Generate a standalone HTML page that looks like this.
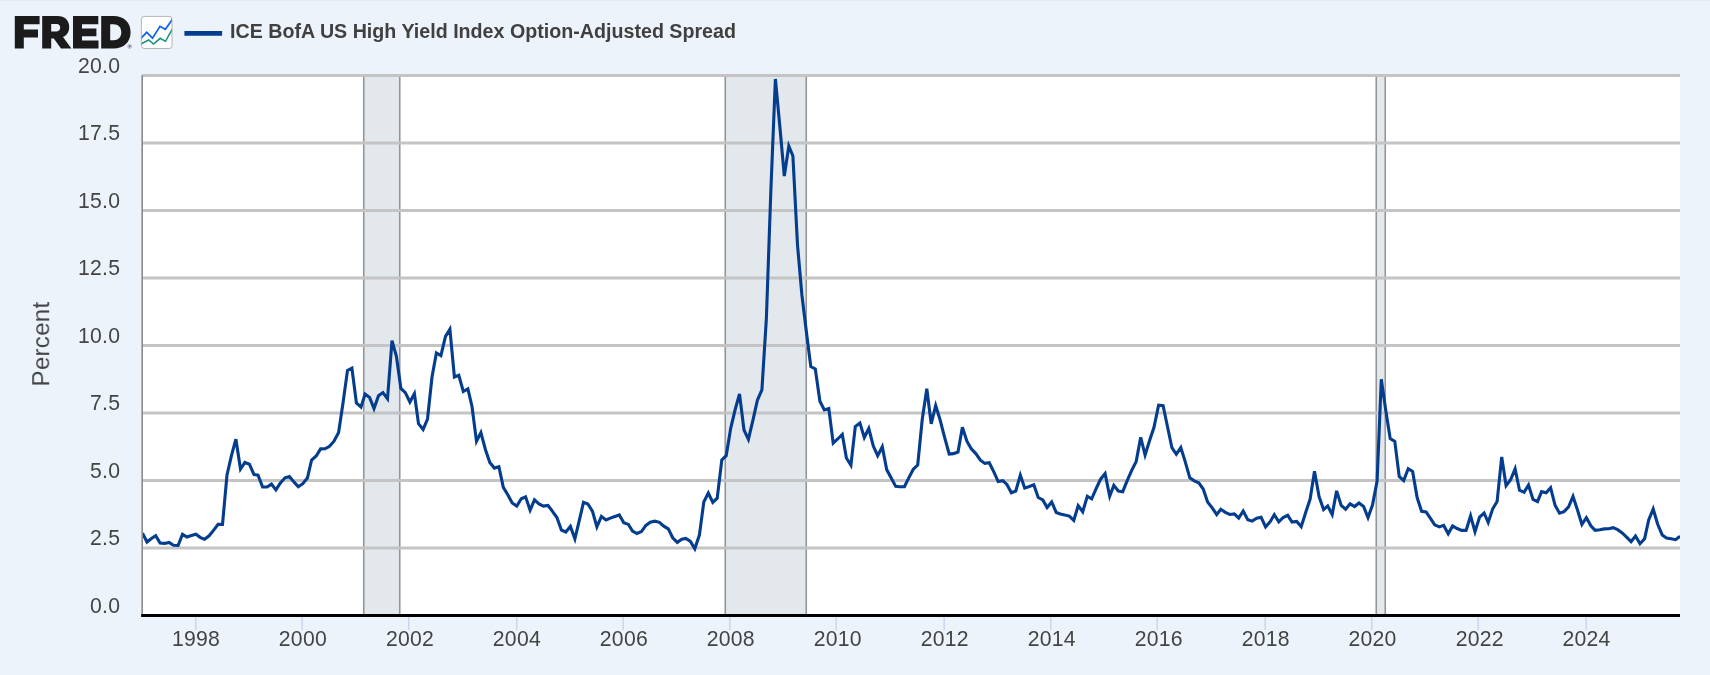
<!DOCTYPE html>
<html><head><meta charset="utf-8"><title>FRED Graph</title>
<style>
html,body{margin:0;padding:0;background:#ecf3fb;}
body{width:1710px;height:675px;overflow:hidden;font-family:"Liberation Sans",sans-serif;}
svg{display:block;}
svg text{filter:url(#idf);}
svg text{font-family:"Liberation Sans",sans-serif;}
.lbl{font-size:21.2px;fill:#444444;letter-spacing:0.25px;}
.ttl{font-size:24px;fill:#444444;letter-spacing:0.3px;}
.title{font-size:20.3px;font-weight:bold;fill:#404040;}
</style></head><body>
<svg width="1710" height="675" viewBox="0 0 1710 675">
<defs><filter id="idf" x="-5%" y="-50%" width="110%" height="200%" color-interpolation-filters="sRGB"><feOffset dx="0" dy="0"/></filter></defs>
<rect x="0" y="0" width="1710" height="675" fill="#ecf3fb"/>
<rect x="0" y="0" width="1710" height="1.2" fill="#e4ebf3"/>
<rect x="142" y="75.5" width="1538" height="540.0" fill="#ffffff"/>
<rect x="363.75" y="75.5" width="36.0" height="540.0" fill="#e3e8ed"/>
<line x1="363.75" y1="75.5" x2="363.75" y2="615.5" stroke="#959595" stroke-width="1.6"/>
<line x1="399.75" y1="75.5" x2="399.75" y2="615.5" stroke="#959595" stroke-width="1.6"/>
<rect x="725.25" y="75.5" width="81.0" height="540.0" fill="#e3e8ed"/>
<line x1="725.25" y1="75.5" x2="725.25" y2="615.5" stroke="#959595" stroke-width="1.6"/>
<line x1="806.25" y1="75.5" x2="806.25" y2="615.5" stroke="#959595" stroke-width="1.6"/>
<rect x="1376.25" y="75.5" width="9.0" height="540.0" fill="#e3e8ed"/>
<line x1="1376.25" y1="75.5" x2="1376.25" y2="615.5" stroke="#959595" stroke-width="1.6"/>
<line x1="1385.25" y1="75.5" x2="1385.25" y2="615.5" stroke="#959595" stroke-width="1.6"/>
<line x1="142" y1="75.5" x2="1680" y2="75.5" stroke="#c4c4c4" stroke-width="2.8"/>
<line x1="142" y1="143.0" x2="1680" y2="143.0" stroke="#c4c4c4" stroke-width="2.8"/>
<line x1="142" y1="210.5" x2="1680" y2="210.5" stroke="#c4c4c4" stroke-width="2.8"/>
<line x1="142" y1="278.0" x2="1680" y2="278.0" stroke="#c4c4c4" stroke-width="2.8"/>
<line x1="142" y1="345.5" x2="1680" y2="345.5" stroke="#c4c4c4" stroke-width="2.8"/>
<line x1="142" y1="413.0" x2="1680" y2="413.0" stroke="#c4c4c4" stroke-width="2.8"/>
<line x1="142" y1="480.5" x2="1680" y2="480.5" stroke="#c4c4c4" stroke-width="2.8"/>
<line x1="142" y1="548.0" x2="1680" y2="548.0" stroke="#c4c4c4" stroke-width="2.8"/>
<line x1="142.2" y1="75.2" x2="142.2" y2="617" stroke="#8a8a8a" stroke-width="1.6"/>
<clipPath id="pc"><rect x="143" y="60" width="1537" height="556"/></clipPath>
<polyline clip-path="url(#pc)" points="142.5,533.1 147.0,542.0 151.1,538.7 155.7,535.6 160.1,543.0 164.6,543.4 169.0,542.4 173.5,545.3 178.1,545.5 182.5,534.3 187.0,537.0 191.4,535.6 195.9,534.3 200.5,537.6 204.6,539.3 209.1,535.8 213.5,530.4 218.1,524.4 222.5,524.4 227.0,475.0 231.5,455.3 235.9,439.2 240.5,469.0 244.9,462.5 249.4,464.2 253.9,474.4 258.0,475.2 262.6,487.0 267.0,487.0 271.5,484.1 275.9,489.9 280.4,483.0 285.0,477.8 289.4,476.6 293.9,481.9 298.3,486.7 302.8,483.7 307.4,478.1 311.6,460.0 316.2,456.0 320.6,448.9 325.1,448.8 329.5,446.3 334.0,441.2 338.6,432.5 343.0,403.0 347.5,370.4 351.9,368.1 356.4,403.0 361.0,407.1 365.1,394.1 369.6,397.4 374.0,408.6 378.5,395.7 382.9,392.6 387.5,398.8 392.0,340.7 396.4,356.3 400.9,388.5 405.3,392.6 409.9,402.0 414.4,393.7 418.5,423.7 423.1,429.5 427.5,419.0 432.0,377.0 436.4,353.0 440.9,355.6 445.5,336.4 449.9,329.3 454.4,377.0 458.8,375.4 463.3,391.5 467.9,388.8 472.0,406.5 476.5,441.2 480.9,432.5 485.4,449.5 489.8,462.5 494.4,468.1 498.9,466.7 503.3,487.4 507.8,494.7 512.2,503.0 516.8,506.1 521.3,498.8 525.6,496.8 530.1,510.2 534.5,499.9 539.0,504.0 543.4,506.1 548.0,505.5 552.5,511.3 556.9,517.5 561.4,530.0 565.8,532.0 570.4,526.4 574.9,538.8 579.0,521.7 583.5,502.4 587.9,504.0 592.5,511.3 596.9,526.8 601.4,516.5 606.0,520.0 610.3,518.1 614.9,516.5 619.3,515.0 623.8,522.7 628.4,524.4 632.5,531.0 637.0,533.5 641.4,531.6 645.9,525.4 650.3,522.3 654.9,521.2 659.4,522.3 663.8,526.2 668.3,528.9 672.7,537.8 677.3,542.4 681.8,539.3 685.9,538.5 690.4,541.4 694.8,548.8 699.4,535.1 703.8,502.0 708.3,493.0 712.8,502.4 717.2,498.2 721.8,460.0 726.2,455.7 730.7,428.3 735.2,409.5 739.5,393.9 744.0,430.0 748.4,439.3 753.0,419.9 757.4,400.2 761.9,389.8 766.4,318.0 770.8,192.0 775.4,79.0 779.8,126.0 784.3,176.1 788.8,146.0 792.9,156.0 797.5,245.0 801.9,295.0 806.4,332.0 810.8,366.6 815.3,369.0 819.9,401.2 824.3,409.9 828.8,408.5 833.2,443.1 837.7,439.0 842.3,434.4 846.4,458.0 850.9,465.2 855.3,426.5 859.9,423.0 864.3,437.5 868.8,428.5 873.3,446.1 877.7,455.7 882.3,446.8 886.7,469.6 891.2,477.9 895.7,486.4 899.8,486.8 904.4,486.8 908.8,477.9 913.3,469.2 917.7,465.0 922.2,419.8 926.8,388.7 931.2,423.9 935.7,405.5 940.1,419.8 944.6,437.4 949.2,454.0 953.4,453.6 958.0,452.0 962.4,427.3 966.9,441.2 971.3,448.8 975.8,453.6 980.4,460.2 984.8,463.4 989.3,462.7 993.7,471.6 998.2,481.6 1002.8,480.7 1006.9,484.4 1011.4,492.7 1015.8,491.0 1020.3,475.2 1024.7,488.1 1029.3,486.5 1033.8,484.8 1038.2,497.5 1042.8,500.0 1047.1,507.6 1051.7,502.0 1056.2,512.4 1060.3,513.9 1064.9,515.1 1069.3,516.1 1073.8,520.3 1078.2,505.6 1082.7,511.8 1087.3,496.4 1091.7,498.9 1096.2,488.5 1100.6,479.2 1105.1,473.6 1109.7,496.2 1113.8,485.4 1118.3,491.0 1122.7,491.7 1127.2,480.7 1131.6,470.6 1136.2,461.4 1140.7,437.3 1145.1,455.0 1149.6,440.5 1154.0,427.3 1158.6,405.1 1163.1,405.6 1167.4,426.3 1171.9,447.7 1176.3,454.3 1180.8,447.6 1185.2,461.6 1189.8,477.8 1194.3,480.9 1198.7,482.7 1203.2,489.0 1207.6,502.0 1212.2,507.8 1216.7,514.5 1220.8,509.3 1225.3,512.4 1229.7,514.5 1234.3,513.9 1238.7,518.0 1243.2,511.0 1247.8,519.7 1252.1,521.1 1256.7,518.2 1261.1,517.2 1265.6,526.9 1270.2,521.7 1274.3,514.7 1278.8,521.8 1283.2,517.5 1287.7,515.3 1292.1,522.0 1296.7,521.4 1301.2,526.6 1305.6,512.7 1310.1,499.2 1314.5,471.2 1319.1,496.7 1323.6,509.6 1327.7,505.9 1332.2,514.5 1336.6,490.9 1341.2,505.4 1345.6,509.2 1350.1,503.8 1354.6,506.5 1359.0,503.0 1363.6,506.5 1368.0,517.6 1372.5,505.0 1377.1,481.0 1381.3,379.2 1385.8,410.6 1390.2,438.6 1394.8,441.4 1399.2,476.4 1403.7,480.6 1408.2,468.8 1412.6,471.5 1417.2,497.8 1421.6,511.3 1426.1,511.9 1430.6,518.6 1434.7,524.8 1439.3,526.9 1443.7,525.4 1448.2,533.7 1452.6,525.9 1457.1,528.5 1461.7,530.4 1466.1,530.4 1470.6,515.8 1475.0,531.8 1479.6,517.1 1484.1,513.0 1488.2,522.5 1492.7,508.8 1497.1,501.6 1501.7,457.0 1506.1,485.6 1510.6,479.8 1515.1,468.8 1519.5,490.2 1524.1,492.2 1528.5,485.0 1533.0,499.5 1537.5,501.6 1541.6,491.6 1546.2,492.7 1550.6,487.7 1555.1,505.3 1559.5,513.2 1564.0,511.6 1568.6,506.9 1573.0,496.5 1577.5,510.0 1581.9,524.4 1586.4,517.7 1591.0,526.0 1595.2,530.4 1599.8,529.7 1604.2,528.9 1608.7,528.7 1613.1,527.7 1617.6,529.7 1622.2,532.9 1626.6,537.1 1631.1,541.7 1635.5,536.0 1640.0,543.7 1644.6,538.7 1648.7,520.0 1653.2,509.0 1657.6,524.0 1662.2,534.9 1666.5,538.0 1671.1,538.7 1675.6,539.7 1680.0,536.3" fill="none" stroke="#043d8e" stroke-width="3.1" stroke-linejoin="miter" stroke-miterlimit="4" stroke-linecap="butt"/>
<line x1="141.2" y1="615.5" x2="1680" y2="615.5" stroke="#000000" stroke-width="3"/>
<line x1="195.8" y1="617" x2="195.8" y2="630" stroke="#ccd6eb" stroke-width="1.5"/>
<text x="196.0" y="645.8" text-anchor="middle" class="lbl">1998</text>
<line x1="302.2" y1="617" x2="302.2" y2="630" stroke="#ccd6eb" stroke-width="1.5"/>
<text x="302.9" y="645.8" text-anchor="middle" class="lbl">2000</text>
<line x1="408.8" y1="617" x2="408.8" y2="630" stroke="#ccd6eb" stroke-width="1.5"/>
<text x="410.0" y="645.8" text-anchor="middle" class="lbl">2002</text>
<line x1="516.8" y1="617" x2="516.8" y2="630" stroke="#ccd6eb" stroke-width="1.5"/>
<text x="516.9" y="645.8" text-anchor="middle" class="lbl">2004</text>
<line x1="623.2" y1="617" x2="623.2" y2="630" stroke="#ccd6eb" stroke-width="1.5"/>
<text x="623.9" y="645.8" text-anchor="middle" class="lbl">2006</text>
<line x1="729.8" y1="617" x2="729.8" y2="630" stroke="#ccd6eb" stroke-width="1.5"/>
<text x="730.8" y="645.8" text-anchor="middle" class="lbl">2008</text>
<line x1="836.2" y1="617" x2="836.2" y2="630" stroke="#ccd6eb" stroke-width="1.5"/>
<text x="837.8" y="645.8" text-anchor="middle" class="lbl">2010</text>
<line x1="944.2" y1="617" x2="944.2" y2="630" stroke="#ccd6eb" stroke-width="1.5"/>
<text x="944.7" y="645.8" text-anchor="middle" class="lbl">2012</text>
<line x1="1050.8" y1="617" x2="1050.8" y2="630" stroke="#ccd6eb" stroke-width="1.5"/>
<text x="1051.8" y="645.8" text-anchor="middle" class="lbl">2014</text>
<line x1="1157.2" y1="617" x2="1157.2" y2="630" stroke="#ccd6eb" stroke-width="1.5"/>
<text x="1158.7" y="645.8" text-anchor="middle" class="lbl">2016</text>
<line x1="1265.2" y1="617" x2="1265.2" y2="630" stroke="#ccd6eb" stroke-width="1.5"/>
<text x="1265.7" y="645.8" text-anchor="middle" class="lbl">2018</text>
<line x1="1371.8" y1="617" x2="1371.8" y2="630" stroke="#ccd6eb" stroke-width="1.5"/>
<text x="1372.6" y="645.8" text-anchor="middle" class="lbl">2020</text>
<line x1="1478.2" y1="617" x2="1478.2" y2="630" stroke="#ccd6eb" stroke-width="1.5"/>
<text x="1479.7" y="645.8" text-anchor="middle" class="lbl">2022</text>
<line x1="1586.2" y1="617" x2="1586.2" y2="630" stroke="#ccd6eb" stroke-width="1.5"/>
<text x="1586.5" y="645.8" text-anchor="middle" class="lbl">2024</text>
<text x="120.3" y="72.9" text-anchor="end" class="lbl">20.0</text>
<text x="120.3" y="140.4" text-anchor="end" class="lbl">17.5</text>
<text x="120.3" y="207.9" text-anchor="end" class="lbl">15.0</text>
<text x="120.3" y="275.4" text-anchor="end" class="lbl">12.5</text>
<text x="120.3" y="342.9" text-anchor="end" class="lbl">10.0</text>
<text x="120.3" y="410.4" text-anchor="end" class="lbl">7.5</text>
<text x="120.3" y="477.9" text-anchor="end" class="lbl">5.0</text>
<text x="120.3" y="545.4" text-anchor="end" class="lbl">2.5</text>
<text x="120.3" y="612.9" text-anchor="end" class="lbl">0.0</text>
<text transform="translate(49.2,344) rotate(-90)" text-anchor="middle" class="ttl">Percent</text>
<line x1="184.4" y1="33.4" x2="222.1" y2="33.4" stroke="#043d8e" stroke-width="4.6"/>
<text x="230" y="37.7" class="title" textLength="506" lengthAdjust="spacingAndGlyphs">ICE BofA US High Yield Index Option-Adjusted Spread</text>
<rect x="141.4" y="16.4" width="30.6" height="32.1" rx="3" ry="3" fill="#ffffff" stroke="#a3a3a3" stroke-width="0.8"/>
<clipPath id="ic"><rect x="141.6" y="16.6" width="30.2" height="31.7" rx="2.8"/></clipPath>
<g clip-path="url(#ic)" fill="none" stroke-linejoin="miter">
<polyline points="140.2,39 146.7,32.3 152.5,38.1 160,26.3 165.3,29.3 173.2,18.3" stroke="#0d63e6" stroke-width="1.7"/>
<polyline points="140.2,44.2 148.7,40 153.5,44 160.2,38.3 165.5,41.3 173.2,27.5" stroke="#18917f" stroke-width="1.55"/>
</g>
<g fill="#1c1b1b">
<path d="M14.8,16 H39.6 V24.3 H23.8 V29.6 H38 V37.5 H23.8 V48.5 H14.8 Z"/>
<path fill-rule="evenodd" d="M42.2,16 H57.5 C65,16 69.2,20.5 69.2,27 C69.2,32 66.8,35.4 63,37 L71.4,48.5 H61 L53.8,38.4 H51.2 V48.5 H42.2 Z M51.2,23.9 V31.4 H56.6 C59,31.4 60.2,29.8 60.2,27.6 C60.2,25.4 59,23.9 56.6,23.9 Z"/>
<path d="M73,16 H98.3 V24.3 H82 V28.6 H96.4 V36.3 H82 V40.4 H98.5 V48.5 H73 Z"/>
<path fill-rule="evenodd" d="M101.2,16 H113.5 C124,16 130.6,22.6 130.6,32.2 C130.6,41.8 124,48.5 113.5,48.5 H101.2 Z M110.2,24.3 V40.3 H113.5 C118.3,40.3 121.3,37.2 121.3,32.3 C121.3,27.4 118.3,24.3 113.5,24.3 Z"/>
</g>
<circle cx="129.7" cy="46.4" r="2.1" fill="#c9cdd3" stroke="#a9adb3" stroke-width="0.6"/>
<circle cx="129.6" cy="46.3" r="0.9" fill="#5a5a5a"/>
</svg>
</body></html>
